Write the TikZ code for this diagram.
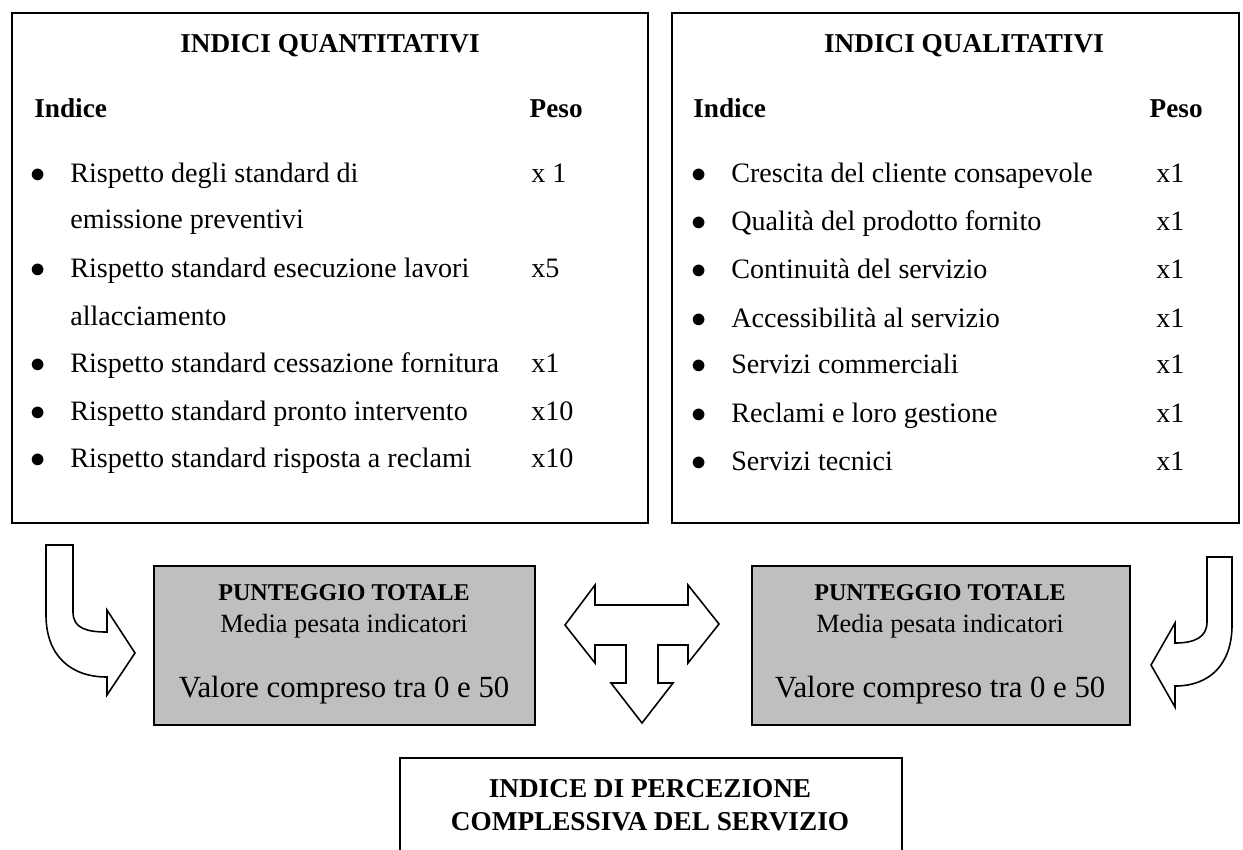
\documentclass[tikz,border=0pt]{standalone}
\usepackage{fontspec}
\setmainfont{Liberation Serif}
\usetikzlibrary{arrows.meta}

\begin{document}
\begin{tikzpicture}[
    x = 0.2mm, y = -0.2mm,
    box/.style = {draw, line width=1.1pt, anchor=north west, inner sep=0pt},
    totbox/.style = {box, line width=1.4pt, fill=black!25,
        minimum height=31.8mm},
    item/.style = {anchor=base west, inner sep=0pt,
        font=\fontsize{16}{19}\selectfont},
    head/.style = {anchor=base, inner sep=0pt,
        font=\fontsize{15.5}{19}\selectfont\bfseries},
    blockarrow/.style = {draw, line width=0.9pt, line join=miter}
  ]
  \useasboundingbox (0,0) rectangle (1243,849);
  \clip (0,0) rectangle (1243,849);

  % the two tables
  \node[box, minimum width=127.2mm, minimum height=102mm] (QUANT) at (11,12) {};
  \node[box, minimum width=113.4mm, minimum height=102mm] (QUAL) at (671,12) {};

  \node[head] (QUANTT) at (330,52) {INDICI QUANTITATIVI};
  \node[head, anchor=base west] (QUANTI) at (34,117) {Indice};
  \node[head, anchor=base east] (QUANTP) at (583,117) {Peso};
  \foreach \txt/\yy [count=\i] in {Rispetto degli standard di/182,
      emissione preventivi/228, Rispetto standard esecuzione lavori/277,
      allacciamento/325, Rispetto standard cessazione fornitura/372,
      Rispetto standard pronto intervento/420,
      Rispetto standard risposta a reclami/467}
  \node[item] (qn\i) at (70,\yy) {\txt};
  \foreach \w/\yy [count=\i] in {x 1/182, x5/277, x1/372, x10/420, x10/467}
  {
    \node[item, anchor=base] (qb\i) at (38,\yy) {$\bullet$};
    \node[item] (qw\i) at (531,\yy) {\w};
  }

  \node[head] (QUALT) at (964,52) {INDICI QUALITATIVI};
  \node[head, anchor=base west] (QUALI) at (693,117) {Indice};
  \node[head, anchor=base east] (QUALP) at (1203,117) {Peso};
  \foreach \txt/\yy [count=\i] in {Crescita del cliente consapevole/182,
      Qualità del prodotto fornito/230, Continuità del servizio/278,
      Accessibilità al servizio/327, Servizi commerciali/373,
      Reclami e loro gestione/422, Servizi tecnici/470}
  {
    \node[item, anchor=base] (lb\i) at (699,\yy) {$\bullet$};
    \node[item] (ln\i) at (731,\yy) {\txt};
    \node[item] (lw\i) at (1156,\yy) {x1};
  }

  % punteggi
  \foreach \nm/\xa/\w/\xc in {TOTL/153/76.2mm/344, TOTR/751/75.6mm/940}
  {
    \node[totbox, minimum width=\w] (\nm) at (\xa,565) {};
    \node[head, font=\fontsize{13.7}{16}\selectfont\bfseries] (\nm a) at (\xc,600) {PUNTEGGIO TOTALE};
    \node[head, font=\fontsize{15}{18}\selectfont] (\nm b) at (\xc,632) {Media pesata indicatori};
    \node[head, font=\fontsize{17.5}{20}\selectfont] (\nm c) at (\xc,697) {Valore compreso tra 0 e 50};
  }

  % risultato
  \node[box, minimum width=100.4mm, minimum height=24mm] (IPC) at (399,757) {};
  \node[head] (IPCa) at (650,797) {INDICE DI PERCEZIONE};
  \node[head] (IPCb) at (650,830) {COMPLESSIVA DEL SERVIZIO};

  % frecce
  \draw[blockarrow] (46,545) -- (73,545) -- (73,612)
    .. controls (73,628) and (86,632) .. (107,632) -- (107,610) -- (135,653)
    -- (107,695) -- (107,677) .. controls (70,677) and (46,655) .. (46,615)
    -- cycle;
  \draw[blockarrow] (1232,557) -- (1207,557) -- (1207,622)
    .. controls (1207,637) and (1195,643) .. (1175,643) -- (1175,623)
    -- (1151,665) -- (1175,707) -- (1175,686)
    .. controls (1210,686) and (1232,664) .. (1232,625) -- cycle;
  \draw[blockarrow] (565,625) -- (595,585) -- (595,605) -- (688,605)
    -- (688,585) -- (719,624) -- (688,663) -- (688,645) -- (658,645)
    -- (658,683) -- (673,683) -- (642,723) -- (611,683) -- (626,683)
    -- (626,645) -- (595,645) -- (595,663) -- cycle;
\end{tikzpicture}
\end{document}
